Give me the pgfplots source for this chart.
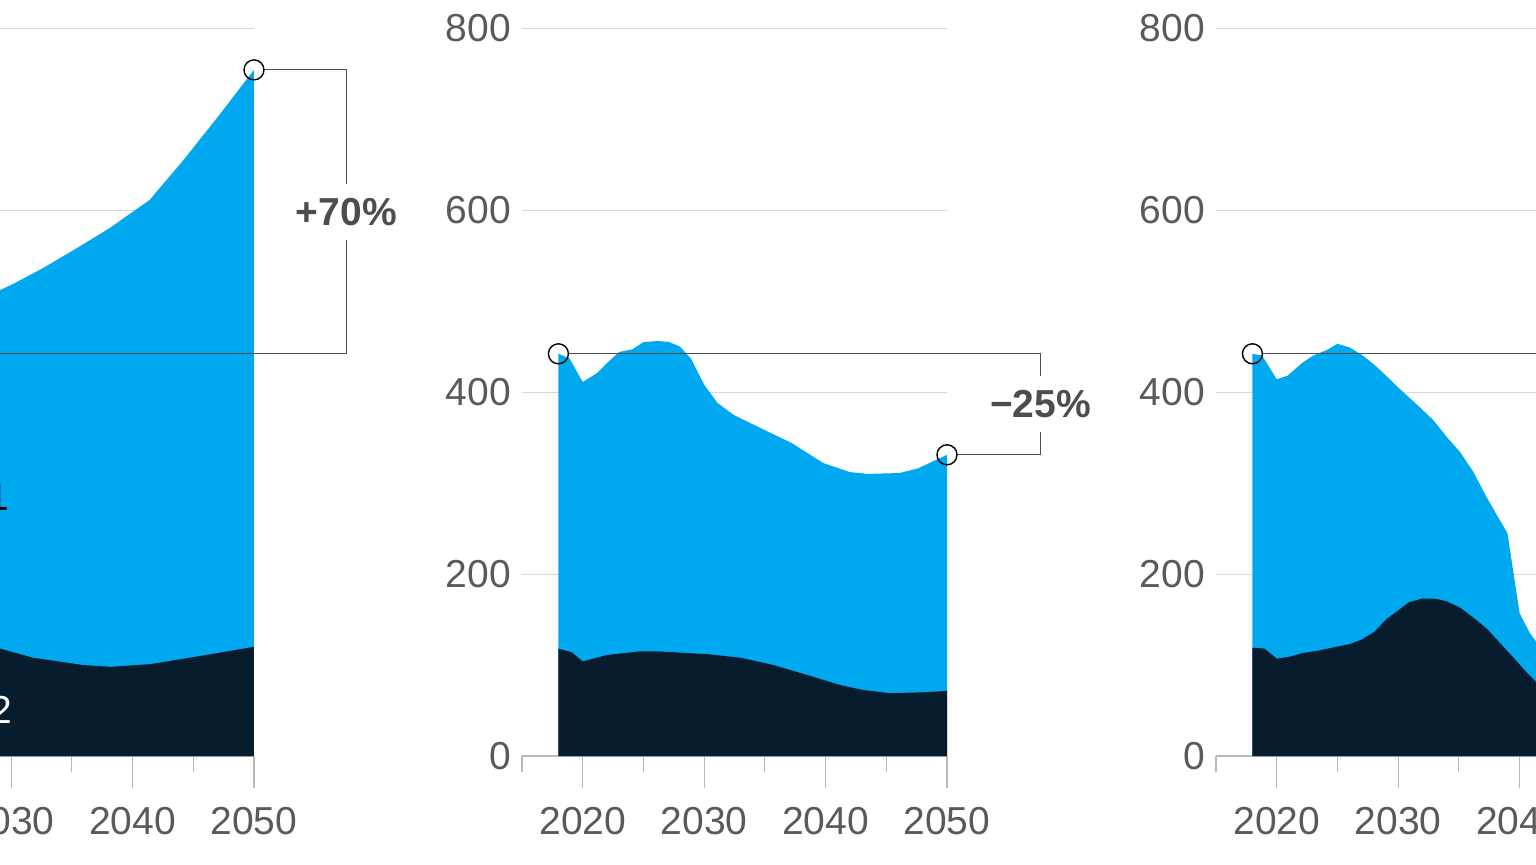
\documentclass[border=0pt]{standalone}
\usepackage{fontspec}
\setmainfont{Liberation Sans}
\usepackage{pgfplots}
\pgfplotsset{compat=1.18}
\definecolor{areablue}{HTML}{00A8F0}
\definecolor{areadark}{HTML}{071D2D}
\definecolor{labelgray}{HTML}{5A5A5A}
\definecolor{annotgray}{HTML}{4D4D4D}
\definecolor{axisgray}{HTML}{B8B8B8}
\definecolor{gridgray}{HTML}{D8D8D8}
\newcommand{\tickfont}{\fontsize{19.5}{22}\selectfont}
\tikzset{
  annot/.style={draw=annotgray, line width=0.6pt},
  pct/.style={fill=white, inner xsep=1pt, inner ysep=7pt, text=annotgray, font=\bfseries\tickfont},
}
\pgfplotsset{
  panel/.style={
    scale only axis, width=212.5pt, height=364pt, anchor=south west,
    xmin=2015, xmax=2050, ymin=0, ymax=800,
    axis x line*=bottom, axis y line*=left,
    x axis line style={draw=axisgray, line width=0.6pt},
    y axis line style={draw=none},
    xtick={2020,2030,2040,2050}, minor xtick={2015,2025,2035,2045},
    ytick={0,200,400,600,800},
    tick align=outside, major tick length=16pt, minor tick length=8pt,
    xtick style={draw=axisgray, line width=0.6pt},
    minor tick style={draw=axisgray, line width=0.6pt},
    ytick style={draw=none},
    ymajorgrids, grid style={draw=gridgray, line width=0.5pt},
    /pgf/number format/assume math mode=true,
    /pgf/number format/1000 sep={},
    tick label style={font=\tickfont, text=labelgray},
    yticklabel style={xshift=14pt},
    xticklabel style={yshift=-6pt},
    clip=false,
  },
  circ/.style={only marks, mark=o, mark size=5pt, mark options={draw=black, line width=0.7pt}},
}
\begin{document}
\begin{tikzpicture}
\path[use as bounding box] (0,0) rectangle (768pt,432pt);
\clip (0,0) rectangle (768pt,432pt);

% ---------- Panel 1 ----------
\begin{axis}[panel, at={(-85.5pt,54pt)}]
\addplot[fill=areablue, draw=none] coordinates {
(2018,442) (2019,438) (2020,414) (2022,430) (2024,446) (2026,466) (2028,492)
(2029.1,512) (2030.2,519) (2032.6,536) (2035.4,558) (2038.1,580) (2041.4,611)
(2044.2,655) (2047,702) (2050,754)} \closedcycle;
\addplot[fill=areadark, draw=none] coordinates {
(2018,118) (2019,115) (2020,104) (2022,110) (2025,116) (2027,118) (2029.1,118)
(2031.8,108) (2035.9,100) (2038.2,98) (2041.5,101) (2045.6,110) (2050,120)} \closedcycle;
\draw[annot] ([xshift=5pt]axis cs:2050,754) -- (axis cs:2057.6,754) -- (axis cs:2057.6,442) -- ([xshift=5pt]axis cs:2018,442);
\node[pct] at (axis cs:2057.6,598) {+70\%};
\addplot[circ] coordinates {(2018,442) (2050,754)};
\node[anchor=base east, inner sep=0pt, text=black, font=\tickfont] at (axis cs:2029.85,270) {Scope 1};
\node[anchor=base east, inner sep=0pt, text=white, font=\tickfont] at (axis cs:2030.15,36) {Scope 2};
\end{axis}

% ---------- Panel 2 ----------
\begin{axis}[panel, at={(261pt,54pt)}]
\addplot[fill=areablue, draw=none] coordinates {
(2018,442) (2018.9,437) (2020,411) (2021.2,421) (2022.1,433) (2023,444) (2024.1,447)
(2025,455) (2026.2,456) (2027.1,455) (2028,450) (2028.9,437) (2030,408) (2031.1,388)
(2032.4,375) (2034.7,360) (2037.2,344) (2039.8,322) (2042,312) (2043.5,310)
(2046.1,311) (2047.6,316) (2050,331)} \closedcycle;
\addplot[fill=areadark, draw=none] coordinates {
(2018,118) (2019.1,114) (2020,104) (2022,111) (2024.7,115) (2026.1,115) (2030.2,112)
(2033,108) (2035.7,100) (2038.5,89) (2041.2,78) (2043.1,72.5) (2045.3,69) (2048,70)
(2050,71.5)} \closedcycle;
\draw[annot] ([xshift=5pt]axis cs:2018,442) -- (axis cs:2057.7,442) -- (axis cs:2057.7,331) -- ([xshift=5pt]axis cs:2050,331);
\node[pct] at (axis cs:2057.7,386.5) {−25\%};
\addplot[circ] coordinates {(2018,442) (2050,331)};
\end{axis}

% ---------- Panel 3 ----------
\begin{axis}[panel, at={(608pt,54pt)}]
\addplot[fill=areablue, draw=none] coordinates {
(2018,442) (2018.8,440) (2020,414) (2020.9,418) (2022.1,432) (2023,440) (2024.1,446)
(2025,453) (2026,449) (2027.1,440) (2028.2,428) (2029,418) (2030,405) (2031.8,383)
(2032.9,369) (2034.1,349) (2035.1,334) (2036.2,312) (2037.3,284) (2038.2,263)
(2039,245) (2039.5,201) (2040,157) (2040.8,136) (2041.3,127) (2042,118) (2044,105)
(2046,95) (2048,88) (2050,82)} \closedcycle;
\addplot[fill=areadark, draw=none] coordinates {
(2018,119) (2019,118) (2020,107) (2021,109) (2022.1,113) (2023.5,116) (2024.9,120)
(2026,123) (2027,128) (2028,136) (2029,150) (2030,160) (2030.9,169) (2032,173)
(2033,173) (2034,170) (2035.1,163) (2036.2,152) (2037.3,140) (2038.4,124)
(2039.5,108) (2040.5,93) (2041.3,82) (2042,75) (2044,65) (2046,58) (2048,52)
(2050,48)} \closedcycle;
\draw[annot] ([xshift=5pt]axis cs:2018,442) -- (axis cs:2057.7,442);
\addplot[circ] coordinates {(2018,442)};
\end{axis}
\end{tikzpicture}
\end{document}
